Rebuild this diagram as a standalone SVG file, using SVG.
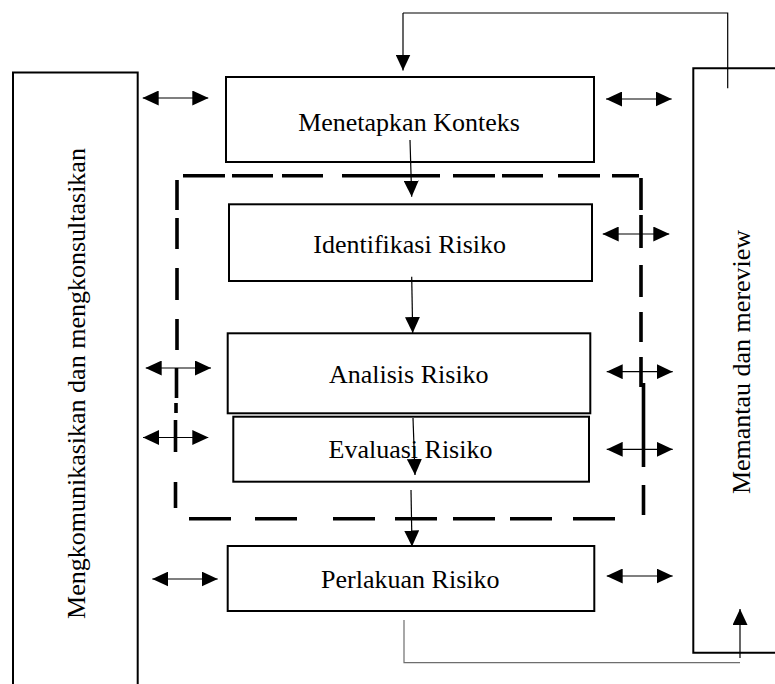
<svg xmlns="http://www.w3.org/2000/svg" width="775" height="684" viewBox="0 0 775 684">
<defs>
<style>
.box{fill:#fff;stroke:#000;stroke-width:2}
.lbl{font-family:"Liberation Serif","Times New Roman",serif;font-size:26px;fill:#000;text-anchor:middle}
.thin{fill:none;stroke:#000;stroke-width:1.2}
.gray{fill:none;stroke:#6e6e6e;stroke-width:1.2}
.dash{fill:none;stroke:#000;stroke-width:3.6}
.dbl{stroke:#000;stroke-width:1.2;marker-start:url(#ah);marker-end:url(#ah)}
.one{stroke:#000;stroke-width:1.2;marker-end:url(#ah)}
</style>
<marker id="ah" viewBox="0 0 16 15" refX="16" refY="7.5" markerWidth="16" markerHeight="15" markerUnits="userSpaceOnUse" orient="auto-start-reverse">
<path d="M0,0 L16,7.5 L0,15 z" fill="#000"/>
</marker>
</defs>

<g id="komunikasi">
<path d="M13,684 V72.5 H137.7 V684" class="box"/>
<text class="lbl" transform="translate(85,383.5) rotate(-90)">Mengkomunikasikan dan mengkonsultasikan</text>
</g>

<g id="memantau">
<path d="M776,68.3 H693.3 V652.7 H776" class="box"/>
<text class="lbl" transform="translate(750,362) rotate(-90)">Memantau dan mereview</text>
</g>

<g id="dashed-frame">
<path class="dash" d="M183,175.7 H225 M232,175.7 H273 M282,175.7 H323 M342,175.7 H440 M453,175.7 H495 M502,175.7 H543 M558,175.7 H600 M612,175.7 H639
M641,178 V210 M641,215 V248 M641,265 V297 M641,312 V342 M641,357 V387 M643.5,383 V467 M643.5,485 V515
M189,518.7 H231 M255,518.7 H297 M333,518.7 H375 M395,518.7 H437 M453,518.7 H495 M510,518.7 H552 M573,518.7 H615
M177,180 V210 M177,218 V249 M177,268 V300 M177,319 V350 M176.5,368 V398 M176,403 V413 M175.5,420 V452 M175.5,482 V508"/>
</g>

<g id="menetapkan">
<rect x="226" y="77" width="368" height="85" class="box"/>
<text class="lbl" x="409" y="130.5">Menetapkan Konteks</text>
</g>

<g id="identifikasi">
<rect x="229" y="204.3" width="363" height="76.7" class="box"/>
<text class="lbl" x="409.7" y="252.5">Identifikasi Risiko</text>
</g>

<g id="analisis">
<rect x="227.7" y="333.3" width="362.6" height="80" class="box"/>
<text class="lbl" x="408.8" y="382.5">Analisis Risiko</text>
</g>

<g id="evaluasi">
<rect x="233.3" y="416.7" width="355.7" height="65" class="box"/>
<text class="lbl" x="410.5" y="458.3">Evaluasi Risiko</text>
</g>

<g id="perlakuan">
<rect x="227.7" y="546" width="366.6" height="65" class="box"/>
<text class="lbl" x="410.3" y="588.3">Perlakuan Risiko</text>
</g>

<g id="connectors">
<!-- main flow -->
<line class="one" x1="410" y1="140" x2="411.7" y2="196.7"/>
<line class="one" x1="411.7" y1="276.7" x2="412.7" y2="333"/>
<line class="one" x1="413" y1="418" x2="415" y2="475"/>
<line class="one" x1="411" y1="490" x2="412" y2="546.5"/>
<!-- feedback top -->
<path class="thin" d="M727.7,88.3 V13 H403"/>
<line class="one" x1="403" y1="13" x2="403" y2="70.5"/>
<!-- feedback bottom -->
<path class="gray" d="M404,620 V662.7 H740"/>
<line class="one" x1="740" y1="658" x2="740" y2="609"/>
<!-- left double arrows -->
<line class="dbl" x1="142.7" y1="98" x2="208.3" y2="98"/>
<line class="dbl" x1="145.7" y1="368" x2="211" y2="368"/>
<line class="dbl" x1="143" y1="437.5" x2="208.3" y2="437.5"/>
<line class="dbl" x1="152.3" y1="579" x2="217.7" y2="579"/>
<!-- right double arrows -->
<line class="dbl" x1="606" y1="99" x2="671.7" y2="99"/>
<line class="dbl" x1="602.7" y1="234" x2="669.3" y2="234"/>
<line class="dbl" x1="606.7" y1="371.7" x2="672.7" y2="371.7"/>
<line class="dbl" x1="606.7" y1="449.3" x2="672.7" y2="449.3"/>
<line class="dbl" x1="606.7" y1="576" x2="672.7" y2="576"/>
</g>
</svg>
